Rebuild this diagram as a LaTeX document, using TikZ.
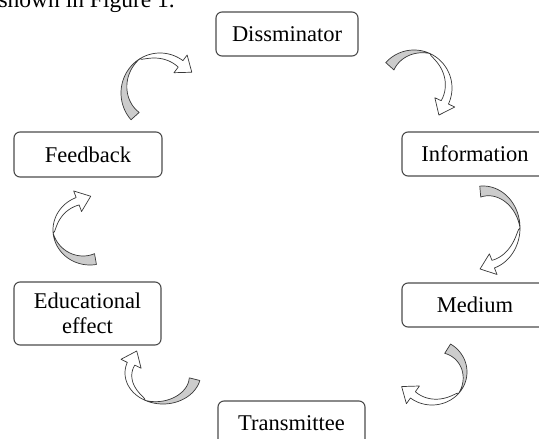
\documentclass[tikz,border=0pt]{standalone}
\usepackage{fontspec}
\setmainfont{Liberation Serif}
\newcommand\bandarrow[8]{%
  \pgfmathsetmacro\bCx{#2}\pgfmathsetmacro\bCy{#3}%
  \pgfmathsetmacro\bRx{#4}\pgfmathsetmacro\bRy{#5}%
  \pgfmathsetmacro\bAt{#6}\pgfmathsetmacro\bAc{#7}\pgfmathsetmacro\bAh{#8}%
  \pgfmathsetmacro\bMx{\bCx+(\bRx-\bWw/2)*cos(\bAh)}%
  \pgfmathsetmacro\bMy{\bCy-(\bRy-\bWw/2)*sin(\bAh)}%
  \pgfmathsetmacro\bTx{\bRx*sin(\bAh)}%
  \pgfmathsetmacro\bTy{\bRy*cos(\bAh)}%
  \pgfmathsetmacro\bTn{sqrt(\bTx*\bTx+\bTy*\bTy)}%
  \coordinate (#1-c) at (\bCx,\bCy);
  \coordinate (#1-bo) at ({\bMx+\bHw*\bTy/\bTn},{\bMy-\bHw*\bTx/\bTn});
  \coordinate (#1-bi) at ({\bMx-\bHw*\bTy/\bTn},{\bMy+\bHw*\bTx/\bTn});
  \coordinate (#1-tip) at ({\bMx+\bHl*\bTx/\bTn},{\bMy+\bHl*\bTy/\bTn});
  \filldraw[backface] plot[variable=\t,samples=40,domain=\bAt:\bAc]
      ({\bCx+\bRx*cos(\t)},{\bCy-\bRy*sin(\t)})
    -- plot[variable=\t,samples=40,domain=\bAc:\bAt]
      ({\bCx+(\bRx-\bWg*(\t-\bAc)/(\bAt-\bAc))*cos(\t)},{\bCy-(\bRy-\bWg*(\t-\bAc)/(\bAt-\bAc))*sin(\t)})
    -- cycle;
  \filldraw[frontface] plot[variable=\t,samples=40,domain=\bAc:\bAh]
      ({\bCx+\bRx*cos(\t)},{\bCy-\bRy*sin(\t)})
    -- (#1-bo) -- (#1-tip) -- (#1-bi)
    -- plot[variable=\t,samples=40,domain=\bAh:\bAc]
      ({\bCx+(\bRx-\bWw*sqrt(abs((\bAc-\t)/(\bAc-\bAh))))*cos(\t)},{\bCy-(\bRy-\bWw*sqrt(abs((\bAc-\t)/(\bAc-\bAh))))*sin(\t)})
    -- cycle;
}
\def\bWg{11}\def\bWw{8}\def\bHw{11}\def\bHl{14}
\begin{document}
\begin{tikzpicture}[x=1pt,y=-1pt,
  box/.style={draw=black!70, line width=1.1pt, rounded corners=6pt, fill=white,
    inner sep=0pt, font=\fontsize{22.5}{25}\selectfont, align=center},
  backface/.style={draw=black!78, line width=0.7pt, fill=black!20, line join=round},
  frontface/.style={draw=black!78, line width=0.7pt, fill=white, line join=round}]
\useasboundingbox (0,0) rectangle (539,439);
\clip (0,0) rectangle (539,439);
\node[anchor=base east, inner sep=0pt, font=\fontsize{23.5}{26}\selectfont] (cap) at (175,7) {shown in Figure 1.};
\node[box, minimum width=142pt, minimum height=44pt] (dis) at (287,34) {Dissminator};
\node[box, minimum width=146pt, minimum height=44pt] (inf) at (475,154) {Information};
\node[box, minimum width=146pt, minimum height=44pt] (med) at (475,305) {Medium};
\node[box, minimum width=147pt, minimum height=44pt] (tra) at (291.5,423) {Transmittee};
\node[box, minimum width=147pt, minimum height=63pt] (edu) at (87.5,313.5) {Educational\\effect};
\node[box, minimum width=148pt, minimum height=45pt] (fee) at (88,154.5) {Feedback};
\bandarrow{aA}{414}{88}{38}{38}{138}{65}{-25}
\bandarrow{aB}{483}{228}{37}{42}{95}{0}{-72}
\bandarrow{aC}{432}{372}{35}{33}{58}{-40}{-128}
\bandarrow{aD}{163}{373}{38}{31}{-14}{-118}{-200}
\bandarrow{aE}{90}{230}{37}{35}{-80}{-175}{-248}
\bandarrow{aF}{160}{93}{39}{40}{222}{121}{54}
\end{tikzpicture}
\end{document}
